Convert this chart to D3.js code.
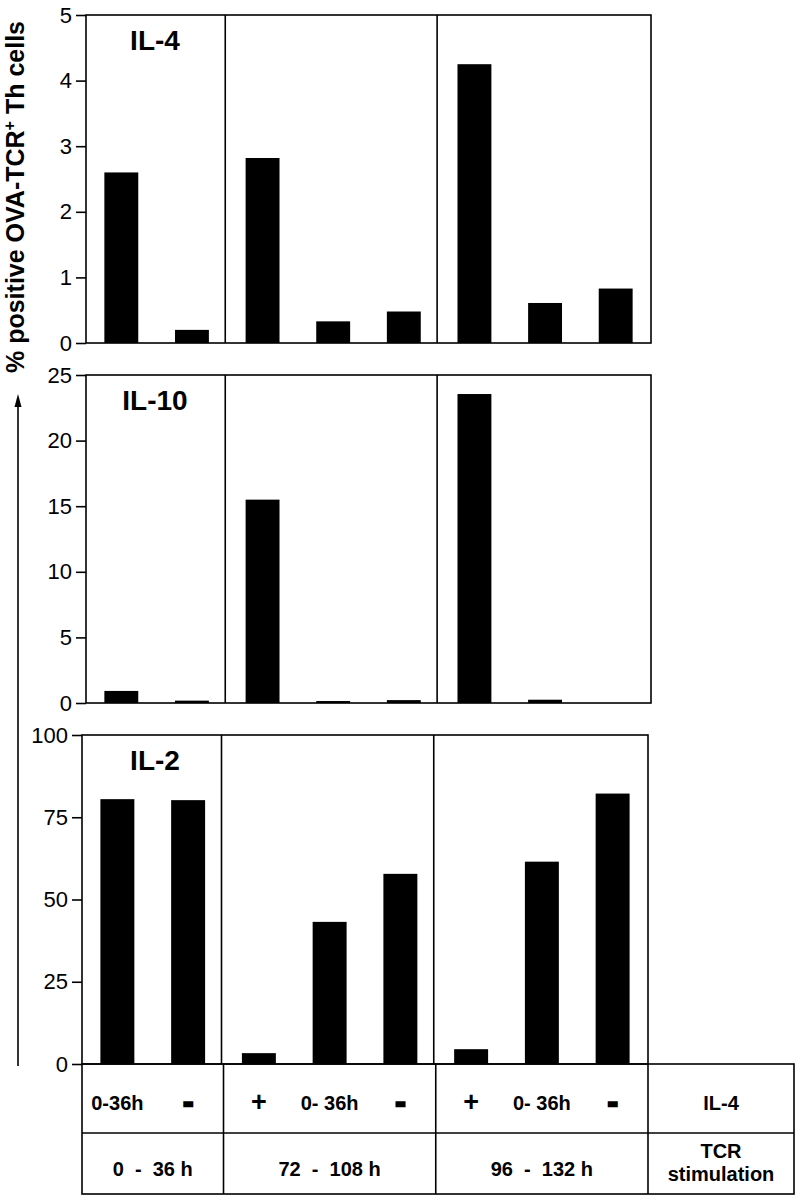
<!DOCTYPE html>
<html>
<head>
<meta charset="utf-8">
<script src="https://cdn.jsdelivr.net/npm/d3@7"></script>
<style>
  body { margin: 0; background: #fff; }
  svg { display: block; }
  .tick text { font-family: "Liberation Sans", Arial, sans-serif; font-size: 22px; fill: #000; }
  .tbl { font-family: "Liberation Sans", Arial, sans-serif; font-weight: bold; font-size: 20px; }
</style>
</head>
<body>
<svg width="797" height="1199"></svg>
<script>
// slots (8 bars) and groups
var slots = ["a1","a2","b1","b2","b3","c1","c2","c3"];
var groupStart = [0, 2, 5];  // index of first bar of each group

var il4  = [2.6, 0.2, 2.82, 0.33, 0.48, 4.25, 0.61, 0.83];
var il10 = [0.92, 0.18, 15.5, 0.15, 0.22, 23.55, 0.25, 0];
var il2  = [80.5, 80.2, 3.3, 43.2, 57.8, 4.5, 61.5, 82.2];

var il4Ticks  = [0,1,2,3,4,5];
var il10Ticks = [0,5,10,15,20,25];
var il2Ticks  = [0,25,50,75,100];

var il4Row  = ["0-36h","-","+","0- 36h","-","+","0- 36h","-"];
var tcrRow  = ["0  -  36 h","72  -  108 h","96  -  132 h"];

var yLabel = "% positive OVA-TCR";

var svg = d3.select("svg");

var panels = [
  {name:"IL-4",  vals:il4,  ticks:il4Ticks,  max:5,   top:15,  bot:343,  left:86, right:651},
  {name:"IL-10", vals:il10, ticks:il10Ticks, max:25,  top:375, bot:703,  left:86, right:651},
  {name:"IL-2",  vals:il2,  ticks:il2Ticks,  max:100, top:735, bot:1064, left:82, right:648}
];

var x, lastX;
panels.forEach(function(p){
  x = d3.scaleBand().domain(slots).range([p.left, p.right]).paddingInner(0.52).paddingOuter(0.26);
  lastX = x;
  var y = d3.scaleLinear().domain([0, p.max]).range([p.bot, p.top]);
  var g = svg.append("g");

  // bars
  g.selectAll("rect.bar").data(p.vals).enter().append("rect")
    .attr("class","bar")
    .attr("x", function(d,i){ return x(slots[i]); })
    .attr("width", x.bandwidth())
    .attr("y", function(d){ return y(d); })
    .attr("height", function(d){ return p.bot - y(d); })
    .attr("fill","#000");

  // frame
  g.append("rect").attr("x", p.left).attr("y", p.top)
    .attr("width", p.right - p.left).attr("height", p.bot - p.top)
    .attr("fill","none").attr("stroke","#000").attr("stroke-width",1.6);

  // group dividers
  groupStart.slice(1).forEach(function(gi){
    var dx = x(slots[gi]) - x.step()*x.paddingInner()/2 - 2;
    g.append("line").attr("x1",dx).attr("x2",dx).attr("y1",p.top).attr("y2",p.bot)
      .attr("stroke","#000").attr("stroke-width",1.6);
  });

  // axis
  var ax = g.append("g").attr("transform","translate("+p.left+",0)")
    .call(d3.axisLeft(y).tickValues(p.ticks).tickFormat(d3.format("d")).tickSize(10).tickPadding(4));
  ax.select(".domain").remove();
  ax.selectAll(".tick line").attr("stroke","#000").attr("stroke-width",1.6);

  // title
  g.append("text").attr("x", 155).attr("y", p.top + 35)
    .attr("text-anchor","middle")
    .style("font-family","Liberation Sans, Arial, sans-serif")
    .style("font-weight","bold").style("font-size","28px")
    .text(p.name);
});

// table below
x = lastX;
var tTop = 1064, tMid = 1133, tBot = 1194, tLeft = 82, tRight = 648, tEnd = 794;
var tg = svg.append("g").attr("stroke","#000").attr("stroke-width",1.6).attr("fill","none");
tg.append("rect").attr("x",tLeft).attr("y",tTop).attr("width",tEnd-tLeft).attr("height",tBot-tTop);
tg.append("line").attr("x1",tLeft).attr("x2",tEnd).attr("y1",tMid).attr("y2",tMid);
var colEdges = groupStart.map(function(gi){ return x(slots[gi]) - x.step()*x.paddingInner()/2; });
colEdges[0] = tLeft;
colEdges.push(tRight);
colEdges.slice(1).forEach(function(cx){
  tg.append("line").attr("x1",cx).attr("x2",cx).attr("y1",tTop).attr("y2",tBot);
});

function cell(txt, cx, cy, size) {
  return svg.append("text").attr("class","tbl")
    .attr("x", cx).attr("y", cy)
    .attr("text-anchor","middle")
    .style("white-space","pre")
    .style("font-size", size ? size + "px" : null)
    .text(txt);
}

il4Row.forEach(function(d,i){
  var cx = x(slots[i]) + x.bandwidth()/2;
  if (d == "-") {
    cell(d, cx, 1112, 30).attr("stroke","#000").attr("stroke-width",2.4);
  } else if (d == "+") {
    cell(d, cx, 1111, 27);
  } else {
    cell(d, cx, 1110);
  }
});

tcrRow.forEach(function(d,i){
  cell(d, (colEdges[i] + colEdges[i+1])/2, 1176);
});

cell("IL-4", (tRight+tEnd)/2, 1110);
cell("TCR", (tRight+tEnd)/2, 1158);
cell("stimulation", (tRight+tEnd)/2, 1181);

// y label with arrow
var yl = svg.append("text")
  .attr("transform","translate(24,373) rotate(-90)")
  .style("font-family","Liberation Sans, Arial, sans-serif")
  .style("font-weight","bold").style("font-size","25px");
yl.append("tspan").text(yLabel);
yl.append("tspan").attr("dy",-9).style("font-size","16px").text("+");
yl.append("tspan").attr("dy",9).text(" Th cells");

svg.append("line").attr("x1",18).attr("x2",18).attr("y1",405).attr("y2",1066)
  .attr("stroke","#000").attr("stroke-width",1.6);
svg.append("path").attr("d","M18,394 L14.5,407 L21.5,407 Z").attr("fill","#000");
</script>
</body>
</html>
